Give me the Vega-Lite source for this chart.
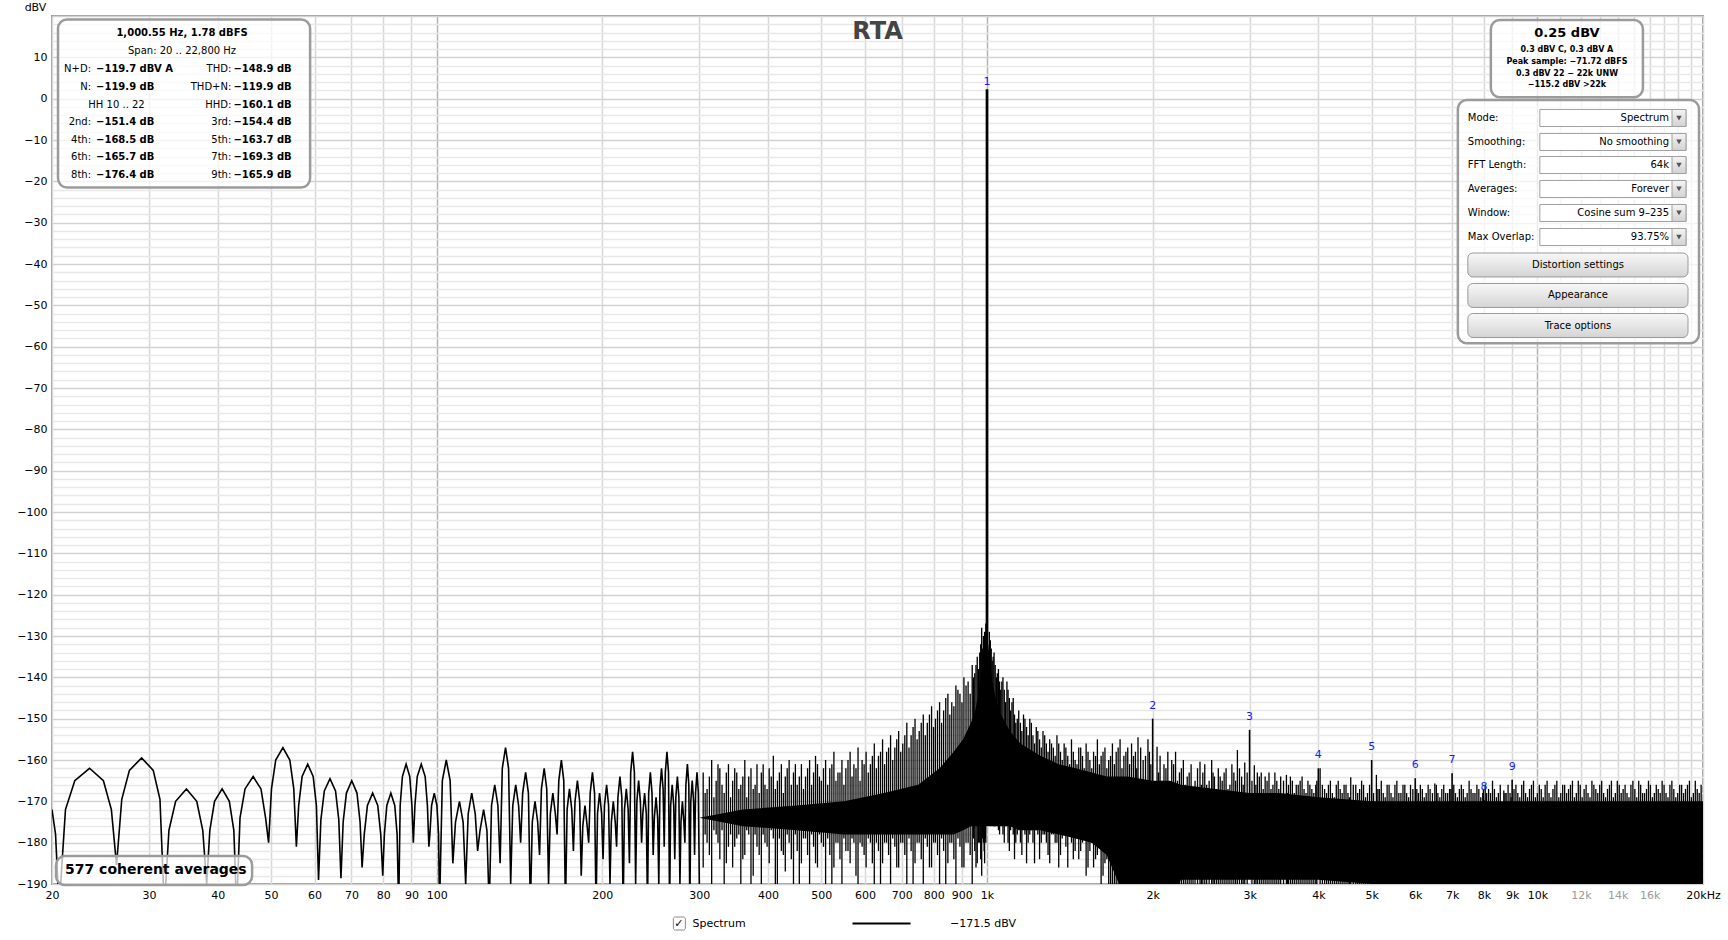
{
"$schema":"https://vega.github.io/schema/vega-lite/v6.json",
"width":1651,"height":868,
"autosize":{"type":"none"},
"padding":{"left":52,"top":16,"right":25,"bottom":56},
"background":"#ffffff",
"config":{"view":{"stroke":"#9a9a9a","strokeWidth":2},"font":"DejaVu Sans","text":{"font":"DejaVu Sans","fontSize":10.5,"color":"#000000"}},
"datasets":{
"trace":[{"f":20,"v":-172},{"f":20.3,"v":-178},{"f":20.6,"v":-196},
{"f":21.16,"v":-172},{"f":22.0,"v":-165},{"f":23.4,"v":-162},{"f":24.8,"v":-165},{"f":25.64,"v":-172},{"f":26.2,"v":-185.4},
{"f":26.78,"v":-169.5},{"f":27.65,"v":-162.5},{"f":29.1,"v":-159.5},{"f":30.55,"v":-162.5},{"f":31.42,"v":-169.5},{"f":32.0,"v":-196},
{"f":32.62,"v":-177},{"f":33.55,"v":-170},{"f":35.1,"v":-167},{"f":36.65,"v":-170},{"f":37.58,"v":-177},{"f":38.2,"v":-190},
{"f":38.71,"v":-177},{"f":39.48,"v":-170},{"f":40.75,"v":-167},{"f":42.0,"v":-170},{"f":42.8,"v":-177},{"f":43.3,"v":-196},
{"f":43.92,"v":-174},{"f":44.85,"v":-167},{"f":46.4,"v":-164},{"f":47.95,"v":-167},{"f":48.88,"v":-174},{"f":49.5,"v":-180},
{"f":50.1,"v":-167},{"f":51.0,"v":-160},{"f":52.55,"v":-157},{"f":54.1,"v":-160},{"f":55.0,"v":-167},{"f":55.6,"v":-181},
{"f":56.14,"v":-171},{"f":56.95,"v":-164},{"f":58.3,"v":-161},{"f":59.65,"v":-164},{"f":60.46,"v":-171},{"f":61.0,"v":-189},
{"f":61.6,"v":-174.5},{"f":62.5,"v":-167.5},{"f":64.0,"v":-164.5},{"f":65.5,"v":-167.5},{"f":66.4,"v":-174.5},{"f":67.0,"v":-188.6},
{"f":67.62,"v":-175},{"f":68.55,"v":-168},{"f":70.1,"v":-165},{"f":71.65,"v":-168},{"f":72.58,"v":-175},{"f":73.2,"v":-186},
{"f":73.86,"v":-178},{"f":74.85,"v":-171},{"f":76.5,"v":-168},{"f":78.15,"v":-171},{"f":79.14,"v":-178},{"f":79.8,"v":-188},
{"f":80.35,"v":-178},{"f":81.18,"v":-171},{"f":82.55,"v":-168},{"f":83.92,"v":-171},{"f":84.75,"v":-178},{"f":85.3,"v":-196},
{"f":85.84,"v":-171},{"f":86.65,"v":-164},{"f":88.0,"v":-161},{"f":89.35,"v":-164},{"f":90.16,"v":-171},{"f":90.7,"v":-180},
{"f":91.3,"v":-171},{"f":92.2,"v":-164},{"f":93.75,"v":-161},{"f":95.3,"v":-164},{"f":96.2,"v":-171},{"f":96.8,"v":-181},
{"f":97.2,"v":-178},{"f":97.9,"v":-171},{"f":99.0,"v":-168},{"f":100.1,"v":-171},{"f":100.8,"v":-178},{"f":101.2,"v":-196},
{"f":102.4,"v":-165},{"f":104.1,"v":-160},{"f":105.8,"v":-165},{"f":107.0,"v":-185},
{"f":108.2,"v":-175},{"f":110.0,"v":-170},{"f":111.7,"v":-175},{"f":112.9,"v":-190},
{"f":114.1,"v":-173},{"f":115.8,"v":-168},{"f":117.5,"v":-173},{"f":118.7,"v":-182},
{"f":119.9,"v":-177},{"f":121.7,"v":-172},{"f":123.4,"v":-177},{"f":124.6,"v":-196},
{"f":125.8,"v":-171},{"f":127.5,"v":-166},{"f":129.2,"v":-171},{"f":130.4,"v":-185},
{"f":131.6,"v":-162},{"f":133.4,"v":-157},{"f":135.1,"v":-162},{"f":136.3,"v":-190},
{"f":137.5,"v":-171},{"f":139.2,"v":-166},{"f":140.9,"v":-171},{"f":142.1,"v":-180},
{"f":143.3,"v":-168},{"f":145.1,"v":-163},{"f":146.8,"v":-168},{"f":148.0,"v":-196},
{"f":149.2,"v":-175},{"f":150.9,"v":-170},{"f":152.6,"v":-175},{"f":153.8,"v":-183},
{"f":155.0,"v":-167},{"f":156.8,"v":-162},{"f":158.5,"v":-167},{"f":159.7,"v":-190},
{"f":160.9,"v":-173},{"f":162.6,"v":-168},{"f":164.3,"v":-173},{"f":165.5,"v":-178},
{"f":166.7,"v":-165},{"f":168.5,"v":-160},{"f":170.2,"v":-165},{"f":171.4,"v":-196},
{"f":172.6,"v":-172},{"f":174.3,"v":-167},{"f":176.0,"v":-172},{"f":177.2,"v":-182},
{"f":178.4,"v":-170},{"f":180.2,"v":-165},{"f":181.9,"v":-170},{"f":183.1,"v":-188},
{"f":184.3,"v":-176},{"f":186.0,"v":-171},{"f":187.7,"v":-176},{"f":188.9,"v":-180},
{"f":190.1,"v":-168},{"f":191.9,"v":-163},{"f":193.6,"v":-168},{"f":194.8,"v":-196},
{"f":196.0,"v":-173},{"f":197.7,"v":-168},{"f":199.4,"v":-173},{"f":200.6,"v":-184},
{"f":201.8,"v":-171},{"f":203.6,"v":-166},{"f":205.3,"v":-171},{"f":206.5,"v":-190},
{"f":207.7,"v":-175},{"f":209.4,"v":-170},{"f":211.1,"v":-175},{"f":212.3,"v":-181},
{"f":213.5,"v":-169},{"f":215.3,"v":-164},{"f":217.0,"v":-169},{"f":218.2,"v":-196},
{"f":219.4,"v":-172},{"f":221.1,"v":-167},{"f":222.8,"v":-172},{"f":224.0,"v":-185},
{"f":225.2,"v":-163},{"f":227.0,"v":-158},{"f":228.7,"v":-163},{"f":229.9,"v":-190},
{"f":231.1,"v":-170},{"f":232.8,"v":-165},{"f":234.5,"v":-170},{"f":235.7,"v":-180},
{"f":236.9,"v":-173},{"f":238.7,"v":-168},{"f":240.4,"v":-173},{"f":241.6,"v":-196},
{"f":242.8,"v":-168},{"f":244.5,"v":-163},{"f":246.2,"v":-168},{"f":247.4,"v":-183},
{"f":248.6,"v":-174},{"f":250.4,"v":-169},{"f":252.1,"v":-174},{"f":253.3,"v":-190},
{"f":254.5,"v":-167},{"f":256.2,"v":-162},{"f":257.9,"v":-167},{"f":259.1,"v":-181},
{"f":260.3,"v":-163},{"f":262.1,"v":-158},{"f":263.8,"v":-163},{"f":265.0,"v":-196},
{"f":266.2,"v":-171},{"f":267.9,"v":-166},{"f":269.6,"v":-171},{"f":270.8,"v":-184},
{"f":272.0,"v":-169},{"f":273.8,"v":-164},{"f":275.5,"v":-169},{"f":276.7,"v":-190},
{"f":277.9,"v":-175},{"f":279.6,"v":-170},{"f":281.3,"v":-175},{"f":282.5,"v":-180},
{"f":283.7,"v":-166},{"f":285.5,"v":-161},{"f":287.2,"v":-166},{"f":288.4,"v":-196},
{"f":289.6,"v":-170},{"f":291.3,"v":-165},{"f":293.0,"v":-170},{"f":294.2,"v":-183},
{"f":295.4,"v":-168},{"f":297.2,"v":-163},{"f":298.9,"v":-168},{"f":300.1,"v":-190}],
"band":[{"f":300,"hi":-174,"lo":-174},{"f":360,"hi":-172,"lo":-176},{"f":450,"hi":-171,"lo":-177},{"f":550,"hi":-170,"lo":-178},{"f":650,"hi":-168,"lo":-178},{"f":750,"hi":-166,"lo":-178},{"f":820,"hi":-162,"lo":-178},{"f":870,"hi":-158,"lo":-178},{"f":905,"hi":-155,"lo":-177},{"f":935,"hi":-151,"lo":-176},{"f":952,"hi":-148,"lo":-176},{"f":965,"hi":-144,"lo":-176},{"f":975,"hi":-139,"lo":-176},{"f":986,"hi":-135,"lo":-176},{"f":995,"hi":-131,"lo":-176},{"f":1000,"hi":-131,"lo":-176},{"f":1005,"hi":-132,"lo":-176},{"f":1014,"hi":-137,"lo":-176},{"f":1023,"hi":-141,"lo":-176},{"f":1040,"hi":-146,"lo":-176},{"f":1060,"hi":-149,"lo":-176},{"f":1100,"hi":-153,"lo":-176},{"f":1150,"hi":-156,"lo":-177},{"f":1250,"hi":-159,"lo":-177},{"f":1350,"hi":-161,"lo":-178},{"f":1450,"hi":-162,"lo":-179},{"f":1550,"hi":-163,"lo":-180},{"f":1650,"hi":-164,"lo":-183},{"f":1700,"hi":-164,"lo":-187},{"f":1750,"hi":-164,"lo":-191},{"f":1800,"hi":-164,"lo":-195},{"f":2000,"hi":-165,"lo":-195},{"f":2150,"hi":-165,"lo":-195},{"f":2250,"hi":-166,"lo":-189},{"f":2600,"hi":-167,"lo":-189},{"f":3000,"hi":-168,"lo":-189},{"f":3400,"hi":-168,"lo":-189},{"f":4000,"hi":-169,"lo":-189},{"f":5000,"hi":-170,"lo":-190},{"f":5400,"hi":-170,"lo":-195},{"f":8000,"hi":-170,"lo":-195},{"f":12000,"hi":-170,"lo":-195},{"f":20000,"hi":-170,"lo":-195}],
"spk":[{"f":305,"t":-163,"b":-186},{"f":310,"t":-167,"b":-180},{"f":316,"t":-160,"b":-190},{"f":322,"t":-165,"b":-178},{"f":327,"t":-162,"b":-184},{"f":333,"t":-168,"b":-195},{"f":339,"t":-161,"b":-181},{"f":345,"t":-165,"b":-186},{"f":351,"t":-163,"b":-179},{"f":357,"t":-166,"b":-195},{"f":363,"t":-160,"b":-183},{"f":369,"t":-164,"b":-178},{"f":376,"t":-167,"b":-188},{"f":382,"t":-161,"b":-181},{"f":389,"t":-163,"b":-195},{"f":395,"t":-166,"b":-180},{"f":402,"t":-162,"b":-185},{"f":409,"t":-159,"b":-179},{"f":416,"t":-165,"b":-195},{"f":423,"t":-161,"b":-182},{"f":430,"t":-164,"b":-187},{"f":437,"t":-160,"b":-180},{"f":445,"t":-163,"b":-195},{"f":452,"t":-166,"b":-182},{"f":460,"t":-161,"b":-185},{"f":468,"t":-164,"b":-179},{"f":476,"t":-160,"b":-195},{"f":484,"t":-163,"b":-181},{"f":492,"t":-161,"b":-186},{"f":500,"t":-165,"b":-180},{"f":509,"t":-160,"b":-195},{"f":518,"t":-162,"b":-183},{"f":527,"t":-158,"b":-186},{"f":536,"t":-163,"b":-180},{"f":545,"t":-160,"b":-195},{"f":554,"t":-162,"b":-182},{"f":564,"t":-158,"b":-185},{"f":573,"t":-161,"b":-180},{"f":583,"t":-157,"b":-195},{"f":593,"t":-160,"b":-181},{"f":603,"t":-158,"b":-186},{"f":614,"t":-161,"b":-180},{"f":624,"t":-156,"b":-195},{"f":635,"t":-159,"b":-182},{"f":646,"t":-155,"b":-185},{"f":657,"t":-158,"b":-180},{"f":668,"t":-154,"b":-195},{"f":680,"t":-157,"b":-181},{"f":691,"t":-153,"b":-186},{"f":703,"t":-156,"b":-180},{"f":715,"t":-151,"b":-195},{"f":728,"t":-154,"b":-182},{"f":740,"t":-150,"b":-185},{"f":753,"t":-153,"b":-180},{"f":766,"t":-149,"b":-195},{"f":779,"t":-151,"b":-181},{"f":793,"t":-147,"b":-186},{"f":806,"t":-150,"b":-180},{"f":820,"t":-146,"b":-195},{"f":834,"t":-148,"b":-182},{"f":849,"t":-144,"b":-185},{"f":863,"t":-146,"b":-180},{"f":878,"t":-142,"b":-195},{"f":893,"t":-144,"b":-181},{"f":908,"t":-140,"b":-186},{"f":924,"t":-141,"b":-180},{"f":940,"t":-137,"b":-190},{"f":950,"t":-139,"b":-182},{"f":960,"t":-135,"b":-185},{"f":970,"t":-134,"b":-180},{"f":978,"t":-128,"b":-188},{"f":985,"t":-130,"b":-180},{"f":990,"t":-129,"b":-185},{"f":995,"t":-127,"b":-180},
{"f":307.5,"t":-168,"b":-178},{"f":313,"t":-164,"b":-183},{"f":319,"t":-169,"b":-177},{"f":324.5,"t":-161,"b":-180},{"f":330,"t":-166,"b":-177},{"f":336,"t":-163,"b":-185},{"f":342,"t":-169,"b":-178},{"f":348,"t":-162,"b":-181},{"f":354,"t":-167,"b":-178},{"f":360,"t":-164,"b":-184},{"f":366,"t":-169,"b":-177},{"f":372.5,"t":-162,"b":-190},{"f":379,"t":-166,"b":-178},{"f":385.5,"t":-168,"b":-183},{"f":392,"t":-161,"b":-178},{"f":398.5,"t":-167,"b":-181},{"f":405.5,"t":-164,"b":-177},{"f":412.5,"t":-167,"b":-190},{"f":419.5,"t":-163,"b":-179},{"f":426.5,"t":-168,"b":-183},{"f":433.5,"t":-162,"b":-178},{"f":441,"t":-166,"b":-184},{"f":448.5,"t":-161,"b":-178},{"f":456,"t":-164,"b":-190},{"f":464,"t":-167,"b":-179},{"f":472,"t":-162,"b":-183},{"f":480,"t":-166,"b":-178},{"f":488,"t":-159,"b":-185},{"f":496,"t":-164,"b":-178},{"f":504.5,"t":-162,"b":-181},{"f":513.5,"t":-166,"b":-179},{"f":522.5,"t":-161,"b":-190},{"f":531.5,"t":-165,"b":-180},{"f":540.5,"t":-163,"b":-184},{"f":549.5,"t":-166,"b":-179},{"f":559,"t":-160,"b":-182},{"f":568.5,"t":-164,"b":-179},{"f":578,"t":-162,"b":-188},{"f":588,"t":-165,"b":-180},{"f":598,"t":-161,"b":-183},{"f":608.5,"t":-163,"b":-179},{"f":619,"t":-159,"b":-185},{"f":629.5,"t":-162,"b":-180},{"f":640.5,"t":-158,"b":-190},{"f":651.5,"t":-161,"b":-180},{"f":662.5,"t":-157,"b":-183},{"f":674,"t":-160,"b":-179},{"f":685.5,"t":-155,"b":-186},{"f":697,"t":-158,"b":-180},{"f":709,"t":-154,"b":-183},{"f":721.5,"t":-157,"b":-179},{"f":734,"t":-152,"b":-190},{"f":746.5,"t":-155,"b":-180},{"f":759.5,"t":-151,"b":-184},{"f":772.5,"t":-154,"b":-179},{"f":786,"t":-149,"b":-186},{"f":799.5,"t":-152,"b":-180},{"f":813,"t":-148,"b":-183},{"f":827,"t":-151,"b":-179},{"f":841.5,"t":-145,"b":-190},{"f":856,"t":-149,"b":-180},{"f":870.5,"t":-147,"b":-184},{"f":885.5,"t":-143,"b":-179},{"f":900.5,"t":-146,"b":-186},{"f":916,"t":-142,"b":-180},{"f":932,"t":-144,"b":-183},{"f":945,"t":-140,"b":-179},{"f":955,"t":-137,"b":-186},{"f":965,"t":-138,"b":-180},{"f":974,"t":-132,"b":-184},{"f":982,"t":-133,"b":-179},{"f":988,"t":-130,"b":-182},{"f":993,"t":-129,"b":-179},
{"f":1010,"t":-129,"b":-170},{"f":1018,"t":-133,"b":-175},{"f":1026,"t":-135,"b":-168},{"f":1035,"t":-137,"b":-176},{"f":1044,"t":-139,"b":-172},{"f":1054,"t":-141,"b":-178},{"f":1064,"t":-141,"b":-174},{"f":1075,"t":-143,"b":-180},{"f":1087,"t":-141,"b":-175},{"f":1098,"t":-145,"b":-182},{"f":1110,"t":-146,"b":-176},{"f":1122,"t":-149,"b":-184},{"f":1135,"t":-150,"b":-178},{"f":1150,"t":-151,"b":-180},{"f":1165,"t":-149,"b":-176},{"f":1180,"t":-152,"b":-185},{"f":1196,"t":-150,"b":-178},{"f":1212,"t":-154,"b":-180},{"f":1229,"t":-152,"b":-177},{"f":1246,"t":-155,"b":-184},{"f":1264,"t":-153,"b":-178},{"f":1282,"t":-156,"b":-180},{"f":1300,"t":-155,"b":-185},{"f":1320,"t":-157,"b":-178},{"f":1340,"t":-154,"b":-180},{"f":1360,"t":-158,"b":-183},{"f":1381,"t":-156,"b":-178},{"f":1402,"t":-159,"b":-186},{"f":1424,"t":-155,"b":-180},{"f":1446,"t":-160,"b":-182},{"f":1468,"t":-157,"b":-184},{"f":1491,"t":-159,"b":-180},{"f":1514,"t":-156,"b":-188},{"f":1538,"t":-160,"b":-182},{"f":1562,"t":-158,"b":-186},{"f":1587,"t":-155,"b":-183},{"f":1612,"t":-159,"b":-190},{"f":1638,"t":-157,"b":-185},{"f":1664,"t":-160,"b":-190},{"f":1690,"t":-156,"b":-190},{"f":1717,"t":-158,"b":-190},{"f":1745,"t":-155,"b":-190},{"f":1773,"t":-159,"b":-190},{"f":1802,"t":-157,"b":-190},{"f":1831,"t":-156,"b":-190},{"f":1861,"t":-158,"b":-190},{"f":1881,"t":-154.5,"b":-190},{"f":1922,"t":-160,"b":-190},{"f":1961,"t":-155,"b":-190},{"f":1985,"t":-161,"b":-190},
{"f":1014,"t":-131,"b":-172},{"f":1022,"t":-136,"b":-170},{"f":1030,"t":-134,"b":-176},{"f":1040,"t":-140,"b":-174},{"f":1049,"t":-138,"b":-177},{"f":1059,"t":-143,"b":-175},{"f":1069,"t":-140,"b":-178},{"f":1081,"t":-146,"b":-176},{"f":1092,"t":-143,"b":-180},{"f":1104,"t":-148,"b":-177},{"f":1116,"t":-145,"b":-178},{"f":1128,"t":-151,"b":-180},{"f":1142,"t":-148,"b":-177},{"f":1157,"t":-153,"b":-183},{"f":1172,"t":-150,"b":-178},{"f":1188,"t":-154,"b":-180},{"f":1204,"t":-151,"b":-177},{"f":1220,"t":-156,"b":-185},{"f":1237,"t":-153,"b":-178},{"f":1255,"t":-157,"b":-180},{"f":1273,"t":-154,"b":-178},{"f":1291,"t":-158,"b":-183},{"f":1310,"t":-156,"b":-178},{"f":1330,"t":-159,"b":-180},{"f":1350,"t":-156,"b":-186},{"f":1370,"t":-160,"b":-179},{"f":1391,"t":-157,"b":-181},{"f":1413,"t":-161,"b":-178},{"f":1435,"t":-158,"b":-184},{"f":1457,"t":-161,"b":-179},{"f":1480,"t":-157,"b":-182},{"f":1502,"t":-162,"b":-179},{"f":1526,"t":-158,"b":-186},{"f":1550,"t":-162,"b":-180},{"f":1575,"t":-159,"b":-184},{"f":1600,"t":-161,"b":-181},{"f":1625,"t":-158,"b":-188},{"f":1651,"t":-162,"b":-184},{"f":1677,"t":-159,"b":-190},{"f":1704,"t":-161,"b":-190},{"f":1731,"t":-157,"b":-190},{"f":1759,"t":-162,"b":-190},{"f":1788,"t":-158,"b":-190},{"f":1816,"t":-161,"b":-190},{"f":1846,"t":-159,"b":-190},{"f":1871,"t":-162,"b":-190},{"f":1902,"t":-157,"b":-190},{"f":1941,"t":-159,"b":-190},{"f":1973,"t":-158,"b":-190},
{"f":2037,"t":-156.8,"b":-195},{"f":2063,"t":-159,"b":-195},{"f":2097,"t":-161,"b":-195},{"f":2131,"t":-158,"b":-195},{"f":2166,"t":-160,"b":-195},{"f":2201,"t":-158,"b":-195},{"f":2237,"t":-163,"b":-195},{"f":2274,"t":-160,"b":-195},{"f":2311,"t":-164,"b":-195},{"f":2349,"t":-161,"b":-195},{"f":2388,"t":-165,"b":-195},{"f":2438,"t":-160.4,"b":-195},{"f":2467,"t":-163,"b":-195},{"f":2507,"t":-166,"b":-195},{"f":2560,"t":-160,"b":-195},{"f":2590,"t":-164,"b":-195},{"f":2632,"t":-162,"b":-195},{"f":2675,"t":-165,"b":-195},{"f":2719,"t":-162,"b":-195},{"f":2763,"t":-166,"b":-195},{"f":2809,"t":-163,"b":-195},{"f":2851,"t":-157.6,"b":-195},{"f":2902,"t":-164,"b":-195},{"f":2940,"t":-160.6,"b":-195},{"f":3060,"t":-161.3,"b":-195},{"f":3099,"t":-163,"b":-195},{"f":3150,"t":-163,"b":-195},{"f":3202,"t":-164,"b":-195},{"f":3254,"t":-163,"b":-195},{"f":3308,"t":-166,"b":-195},{"f":3362,"t":-165,"b":-195},{"f":3417,"t":-164,"b":-195},{"f":3500,"t":-163.6,"b":-195},{"f":3530,"t":-166,"b":-195},{"f":3588,"t":-165,"b":-195},{"f":3647,"t":-166,"b":-195},{"f":3707,"t":-165,"b":-195},{"f":3768,"t":-167,"b":-195},{"f":3830,"t":-165,"b":-195},{"f":3893,"t":-167,"b":-195},{"f":3957,"t":-166,"b":-195},{"f":4030,"t":-162,"b":-195},{"f":4106,"t":-167,"b":-195},{"f":4173,"t":-166,"b":-195},{"f":4242,"t":-168,"b":-195},{"f":4312,"t":-166,"b":-195},{"f":4383,"t":-167,"b":-195},{"f":4455,"t":-166,"b":-195},{"f":4528,"t":-168,"b":-195},{"f":4581,"t":-164.2,"b":-195},{"f":4678,"t":-166,"b":-195},{"f":4755,"t":-167,"b":-195},{"f":4833,"t":-166,"b":-195},{"f":4913,"t":-168,"b":-195},{"f":5100,"t":-163.6,"b":-195},{"f":5163,"t":-167,"b":-195},{"f":5248,"t":-168,"b":-195},{"f":5334,"t":-166,"b":-195},{"f":5422,"t":-168,"b":-195},{"f":5511,"t":-166,"b":-195},{"f":5602,"t":-168,"b":-195},{"f":5700,"t":-166,"b":-195},{"f":5788,"t":-168,"b":-195},{"f":5883,"t":-166,"b":-195},{"f":6080,"t":-168,"b":-195},{"f":6180,"t":-167,"b":-195},{"f":6281,"t":-168,"b":-195},{"f":6385,"t":-167,"b":-195},{"f":6512,"t":-165.7,"b":-195},{"f":6596,"t":-168,"b":-195},{"f":6705,"t":-167,"b":-195},{"f":6815,"t":-168,"b":-195},{"f":6927,"t":-167,"b":-195},{"f":7100,"t":-168,"b":-195},{"f":7217,"t":-167,"b":-195},{"f":7335,"t":-167,"b":-195},{"f":7456,"t":-168,"b":-195},{"f":7578,"t":-167,"b":-195},{"f":7703,"t":-168,"b":-195},{"f":7829,"t":-167,"b":-195},{"f":7958,"t":-168,"b":-195},{"f":8089,"t":-168,"b":-195},{"f":8222,"t":-168,"b":-195},{"f":8357,"t":-167,"b":-195},{"f":8495,"t":-168,"b":-195},{"f":8691,"t":-167.4,"b":-195},{"f":8776,"t":-168,"b":-195},{"f":8920,"t":-168,"b":-195},{"f":9070,"t":-167,"b":-195},{"f":9216,"t":-168,"b":-195},{"f":9368,"t":-166,"b":-195},{"f":9522,"t":-168,"b":-195},{"f":9679,"t":-167,"b":-195},{"f":9838,"t":-165,"b":-195},{"f":10000,"t":-168,"b":-195},{"f":10165,"t":-167,"b":-195},{"f":10332,"t":-166,"b":-195},{"f":10502,"t":-168,"b":-195},{"f":10675,"t":-167,"b":-195},{"f":10850,"t":-165,"b":-195},{"f":11029,"t":-168,"b":-195},{"f":11210,"t":-166,"b":-195},{"f":11395,"t":-167,"b":-195},{"f":11582,"t":-165,"b":-195},{"f":11772,"t":-168,"b":-195},{"f":11966,"t":-166,"b":-195},{"f":12163,"t":-167,"b":-195},{"f":12363,"t":-168,"b":-195},{"f":12566,"t":-165,"b":-195},{"f":12773,"t":-167,"b":-195},{"f":12983,"t":-166,"b":-195},{"f":13197,"t":-168,"b":-195},{"f":13414,"t":-167,"b":-195},{"f":13634,"t":-165,"b":-195},{"f":13859,"t":-168,"b":-195},{"f":14087,"t":-166,"b":-195},{"f":14318,"t":-167,"b":-195},{"f":14554,"t":-168,"b":-195},{"f":14793,"t":-166,"b":-195},{"f":15037,"t":-167,"b":-195},{"f":15284,"t":-165,"b":-195},{"f":15535,"t":-168,"b":-195},{"f":15791,"t":-167,"b":-195},{"f":16051,"t":-166,"b":-195},{"f":16315,"t":-168,"b":-195},{"f":16583,"t":-167,"b":-195},{"f":16856,"t":-165,"b":-195},{"f":17133,"t":-168,"b":-195},{"f":17415,"t":-166,"b":-195},{"f":17702,"t":-167,"b":-195},{"f":17993,"t":-168,"b":-195},{"f":18289,"t":-166,"b":-195},{"f":18590,"t":-167,"b":-195},{"f":18896,"t":-165,"b":-195},{"f":19207,"t":-168,"b":-195},{"f":19523,"t":-167,"b":-195},{"f":19844,"t":-166,"b":-195},
{"f":2050,"t":-163,"b":-195},{"f":2080,"t":-165,"b":-195},{"f":2114,"t":-162,"b":-195},{"f":2148,"t":-166,"b":-195},{"f":2183,"t":-161,"b":-195},{"f":2219,"t":-165,"b":-195},{"f":2255,"t":-162,"b":-195},{"f":2292,"t":-166,"b":-195},{"f":2330,"t":-163,"b":-195},{"f":2368,"t":-167,"b":-195},{"f":2413,"t":-162,"b":-195},{"f":2452,"t":-166,"b":-195},{"f":2487,"t":-161,"b":-195},{"f":2533,"t":-165,"b":-195},{"f":2575,"t":-163,"b":-195},{"f":2611,"t":-167,"b":-195},{"f":2653,"t":-164,"b":-195},{"f":2697,"t":-163,"b":-195},{"f":2741,"t":-167,"b":-195},{"f":2786,"t":-161,"b":-195},{"f":2830,"t":-165,"b":-195},{"f":2876,"t":-162,"b":-195},{"f":2921,"t":-166,"b":-195},{"f":2970,"t":-163,"b":-195},
{"f":3030,"t":-165,"b":-195},{"f":3080,"t":-166,"b":-195},{"f":3125,"t":-164,"b":-195},{"f":3176,"t":-167,"b":-195},{"f":3228,"t":-165,"b":-195},{"f":3281,"t":-167,"b":-195},{"f":3335,"t":-163,"b":-195},{"f":3390,"t":-167,"b":-195},{"f":3458,"t":-165,"b":-195},{"f":3515,"t":-168,"b":-195},{"f":3559,"t":-164,"b":-195},{"f":3617,"t":-168,"b":-195},{"f":3677,"t":-166,"b":-195},{"f":3737,"t":-164,"b":-195},{"f":3799,"t":-168,"b":-195},{"f":3861,"t":-166,"b":-195},{"f":3925,"t":-168,"b":-195},{"f":3975,"t":-165,"b":-195},
{"f":4068,"t":-166,"b":-195},{"f":4140,"t":-168,"b":-195},{"f":4207,"t":-165,"b":-195},{"f":4277,"t":-169,"b":-195},{"f":4347,"t":-165,"b":-195},{"f":4419,"t":-168,"b":-195},{"f":4491,"t":-166,"b":-195},{"f":4555,"t":-169,"b":-195},{"f":4630,"t":-166,"b":-195},{"f":4716,"t":-168,"b":-195},{"f":4794,"t":-165,"b":-195},{"f":4873,"t":-169,"b":-195},{"f":4956,"t":-166,"b":-195},
{"f":5040,"t":-168,"b":-195},{"f":5131,"t":-167,"b":-195},{"f":5205,"t":-165,"b":-195},{"f":5291,"t":-169,"b":-195},{"f":5378,"t":-166,"b":-195},{"f":5466,"t":-169,"b":-195},{"f":5556,"t":-165,"b":-195},{"f":5651,"t":-168,"b":-195},{"f":5744,"t":-166,"b":-195},{"f":5835,"t":-169,"b":-195},{"f":5940,"t":-167,"b":-195},
{"f":6040,"t":-167,"b":-195},{"f":6130,"t":-166,"b":-195},{"f":6230,"t":-169,"b":-195},{"f":6333,"t":-166,"b":-195},{"f":6448,"t":-168,"b":-195},{"f":6554,"t":-166,"b":-195},{"f":6650,"t":-169,"b":-195},{"f":6760,"t":-166,"b":-195},{"f":6871,"t":-168,"b":-195},{"f":6965,"t":-167,"b":-195},
{"f":7050,"t":-166,"b":-195},{"f":7158,"t":-169,"b":-195},{"f":7276,"t":-166,"b":-195},{"f":7395,"t":-169,"b":-195},{"f":7517,"t":-165,"b":-195},{"f":7640,"t":-168,"b":-195},{"f":7766,"t":-166,"b":-195},{"f":7893,"t":-169,"b":-195},{"f":7980,"t":-167,"b":-195},
{"f":8040,"t":-166,"b":-195},{"f":8155,"t":-167,"b":-195},{"f":8290,"t":-165,"b":-195},{"f":8426,"t":-169,"b":-195},{"f":8563,"t":-166,"b":-195},{"f":8733,"t":-168,"b":-195},{"f":8848,"t":-166,"b":-195},{"f":8960,"t":-169,"b":-195},
{"f":9143,"t":-166,"b":-195},{"f":9292,"t":-169,"b":-195},{"f":9445,"t":-165,"b":-195},{"f":9600,"t":-169,"b":-195},{"f":9758,"t":-166,"b":-195},{"f":9919,"t":-169,"b":-195},
{"f":10082,"t":-166,"b":-195},{"f":10248,"t":-169,"b":-195},{"f":10417,"t":-165,"b":-195},{"f":10588,"t":-169,"b":-195},{"f":10762,"t":-166,"b":-195},{"f":10939,"t":-169,"b":-195},{"f":11119,"t":-166,"b":-195},{"f":11302,"t":-168,"b":-195},{"f":11488,"t":-166,"b":-195},{"f":11677,"t":-169,"b":-195},{"f":11869,"t":-165,"b":-195},{"f":12064,"t":-169,"b":-195},{"f":12263,"t":-166,"b":-195},{"f":12464,"t":-169,"b":-195},{"f":12669,"t":-166,"b":-195},{"f":12878,"t":-168,"b":-195},{"f":13090,"t":-165,"b":-195},{"f":13305,"t":-169,"b":-195},{"f":13524,"t":-166,"b":-195},{"f":13746,"t":-169,"b":-195},{"f":13973,"t":-165,"b":-195},{"f":14202,"t":-168,"b":-195},{"f":14436,"t":-166,"b":-195},{"f":14673,"t":-169,"b":-195},{"f":14915,"t":-165,"b":-195},{"f":15160,"t":-169,"b":-195},{"f":15409,"t":-166,"b":-195},{"f":15663,"t":-168,"b":-195},{"f":15921,"t":-165,"b":-195},{"f":16183,"t":-169,"b":-195},{"f":16449,"t":-166,"b":-195},{"f":16719,"t":-168,"b":-195},{"f":16994,"t":-166,"b":-195},{"f":17274,"t":-169,"b":-195},{"f":17558,"t":-165,"b":-195},{"f":17847,"t":-169,"b":-195},{"f":18141,"t":-166,"b":-195},{"f":18439,"t":-168,"b":-195},{"f":18743,"t":-166,"b":-195},{"f":19051,"t":-169,"b":-195},{"f":19365,"t":-165,"b":-195},{"f":19683,"t":-168,"b":-195}],
"harm":[{"n":1,"f":1000,"t":2.3,"b":-135},{"n":2,"f":2000,"t":-150,"b":-175},{"n":3,"f":3000,"t":-152.7,"b":-175},{"n":4,"f":4000,"t":-162,"b":-180},{"n":5,"f":5000,"t":-160,"b":-180},{"n":6,"f":6000,"t":-164.4,"b":-180},{"n":7,"f":7000,"t":-163.2,"b":-180},{"n":8,"f":8000,"t":-169.7,"b":-180},{"n":9,"f":9000,"t":-164.8,"b":-180}]
},
"layer":[
{"data":{"name":"band"},"mark":{"type":"area","color":"#000000","clip":true},
 "encoding":{
  "x":{"field":"f","type":"quantitative","scale":{"type":"log","domain":[20,20000]},
   "axis":{"values":[20,30,40,50,60,70,80,90,100,200,300,400,500,600,700,800,900,1000,2000,3000,4000,5000,6000,7000,8000,9000,10000,11000,12000,13000,14000,15000,16000,17000,18000,19000,20000],
    "tickCount":200,"title":null,"grid":true,"ticks":false,"tickSize":0,"domain":false,"labelOverlap":false,"labelBound":false,"labelFlush":false,
    "labelExpr":"datum.value < 1000 ? '' + datum.value : datum.value == 20000 ? '20kHz' : (datum.value <= 10000 || datum.value == 12000 || datum.value == 14000 || datum.value == 16000) ? (datum.value / 1000) + 'k' : ''",
    "labelFont":"DejaVu Sans","labelFontSize":11,"labelPadding":5,
    "labelColor":{"condition":{"test":"datum.value == 12000 || datum.value == 14000 || datum.value == 16000","value":"#9a9a9a"},"value":"#000000"},
    "gridColor":{"condition":{"test":"datum.value == 100 || datum.value == 1000 || datum.value == 10000","value":"#b4b4b4"},"value":"#d8d8d8"},"gridWidth":1.5}},
  "y":{"field":"hi","type":"quantitative","scale":{"domain":[-190,20],"nice":false,"zero":false},
   "axis":{"values":[-190,-188,-186,-184,-182,-180,-178,-176,-174,-172,-170,-168,-166,-164,-162,-160,-158,-156,-154,-152,-150,-148,-146,-144,-142,-140,-138,-136,-134,-132,-130,-128,-126,-124,-122,-120,-118,-116,-114,-112,-110,-108,-106,-104,-102,-100,-98,-96,-94,-92,-90,-88,-86,-84,-82,-80,-78,-76,-74,-72,-70,-68,-66,-64,-62,-60,-58,-56,-54,-52,-50,-48,-46,-44,-42,-40,-38,-36,-34,-32,-30,-28,-26,-24,-22,-20,-18,-16,-14,-12,-10,-8,-6,-4,-2,0,2,4,6,8,10,12,14,16,18,20],
    "tickCount":200,"title":"dBV","titleAngle":0,"titleX":-17,"titleY":-9,"titleAlign":"center","titleBaseline":"middle","titleFontWeight":"normal","titleFontSize":11,"titleFont":"DejaVu Sans","titleColor":"#000000",
    "grid":true,"ticks":false,"tickSize":0,"domain":false,"labelOverlap":false,"labelBound":false,
    "labelExpr":"datum.value % 10 === 0 && datum.value < 20 ? datum.label : ''",
    "labelFont":"DejaVu Sans","labelFontSize":11,"labelPadding":5,"labelColor":"#000000",
    "gridColor":{"condition":{"test":"datum.value % 10 === 0","value":"#d2d2d2"},"value":"#e8e8e8"},"gridWidth":1.5}},
  "y2":{"field":"lo"}}},
{"data":{"name":"spk"},"mark":{"type":"rule","color":"#000000","strokeWidth":1.3,"clip":true},
 "encoding":{"x":{"field":"f","type":"quantitative","scale":{"type":"log","domain":[20,20000]}},
  "y":{"field":"t","type":"quantitative","scale":{"domain":[-190,20],"nice":false,"zero":false}},"y2":{"field":"b"}}},
{"data":{"name":"trace"},"mark":{"type":"line","color":"#000000","strokeWidth":1.6,"clip":true},
 "encoding":{"x":{"field":"f","type":"quantitative","scale":{"type":"log","domain":[20,20000]}},
  "y":{"field":"v","type":"quantitative","scale":{"domain":[-190,20],"nice":false,"zero":false}}}},
{"data":{"name":"harm"},"mark":{"type":"rule","color":"#000000","clip":true},
 "encoding":{"x":{"field":"f","type":"quantitative","scale":{"type":"log","domain":[20,20000]}},
  "y":{"field":"t","type":"quantitative","scale":{"domain":[-190,20],"nice":false,"zero":false}},"y2":{"field":"b"},
  "strokeWidth":{"condition":{"test":"datum.n === 1","value":2.7},"value":1.6}}},
{"data":{"name":"harm"},"transform":[{"filter":"datum.n > 1"}],"mark":{"type":"text","color":"#1a1aff","fontSize":11,"baseline":"middle","align":"center","dy":-13},
 "encoding":{"x":{"field":"f","type":"quantitative","scale":{"type":"log","domain":[20,20000]}},
  "y":{"field":"t","type":"quantitative","scale":{"domain":[-190,20],"nice":false,"zero":false}},"text":{"field":"n"}}},
{"data":{"name":"harm"},"transform":[{"filter":"datum.n === 1"}],"mark":{"type":"text","color":"#1a1aff","fontSize":11,"baseline":"middle","align":"center","dy":-7},
 "encoding":{"x":{"field":"f","type":"quantitative","scale":{"type":"log","domain":[20,20000]}},
  "y":{"field":"t","type":"quantitative","scale":{"domain":[-190,20],"nice":false,"zero":false}},"text":{"field":"n"}}},
{"data":{"values":[{"x1":20.51,"x2":58.89,"y1":19.15,"y2":-21.49},{"x1":8233,"x2":15555,"y1":19.03,"y2":0.33},{"x1":7171,"x2":19668,"y1":-0.32,"y2":-59.19},{"x1":20.34,"x2":46.2,"y1":-183.23,"y2":-190.24}]},
 "mark":{"type":"rect","fill":"#ffffff","fillOpacity":0.72,"stroke":"#9b9b9b","strokeWidth":2.5,"cornerRadius":9},
 "encoding":{"x":{"field":"x1","type":"quantitative","scale":{"type":"log","domain":[20,20000]}},"x2":{"field":"x2"},
  "y":{"field":"y1","type":"quantitative","scale":{"domain":[-190,20],"nice":false,"zero":false}},"y2":{"field":"y2"}}},
{"data":{"values":[{"y1":-2.62,"y2":-6.74},{"y1":-8.42,"y2":-12.54},{"y1":-13.99,"y2":-18.11},{"y1":-19.79,"y2":-23.91},{"y1":-25.6,"y2":-29.72},{"y1":-31.41,"y2":-35.53}]},
 "layer":[
  {"mark":{"type":"rect","fill":"#ffffff","stroke":"#a0a0a0","strokeWidth":1},
   "encoding":{"x":{"datum":10105,"type":"quantitative","scale":{"type":"log","domain":[20,20000]}},"x2":{"datum":18627},
    "y":{"field":"y1","type":"quantitative","scale":{"domain":[-190,20],"nice":false,"zero":false}},"y2":{"field":"y2"}}},
  {"mark":{"type":"rect","stroke":"#a0a0a0","strokeWidth":1,"fill":{"gradient":"linear","x1":0,"y1":0,"x2":0,"y2":1,"stops":[{"offset":0,"color":"#f4f4f4"},{"offset":1,"color":"#d2d2d2"}]}},
   "encoding":{"x":{"datum":17568,"type":"quantitative","scale":{"type":"log","domain":[20,20000]}},"x2":{"datum":18627},
    "y":{"field":"y1","type":"quantitative","scale":{"domain":[-190,20],"nice":false,"zero":false}},"y2":{"field":"y2"}}}
 ]},
{"data":{"values":[{"v":-4.68},{"v":-10.48},{"v":-16.05},{"v":-21.85},{"v":-27.66},{"v":-33.47}]},
 "mark":{"type":"point","shape":"triangle-down","filled":true,"color":"#555555","size":30,"opacity":1},
 "encoding":{"x":{"datum":18089,"type":"quantitative","scale":{"type":"log","domain":[20,20000]}},
  "y":{"field":"v","type":"quantitative","scale":{"domain":[-190,20],"nice":false,"zero":false}}}},
{"data":{"values":[{"y1":-37.34,"y2":-43.14},{"y1":-44.72,"y2":-50.52},{"y1":-51.98,"y2":-57.78}]},
 "mark":{"type":"rect","stroke":"#9a9a9a","strokeWidth":1,"cornerRadius":5,"fill":{"gradient":"linear","x1":0,"y1":0,"x2":0,"y2":1,"stops":[{"offset":0,"color":"#f8f8f8"},{"offset":1,"color":"#d4d4d4"}]}},
 "encoding":{"x":{"datum":7477,"type":"quantitative","scale":{"type":"log","domain":[20,20000]}},"x2":{"datum":18784},
  "y":{"field":"y1","type":"quantitative","scale":{"domain":[-190,20],"nice":false,"zero":false}},"y2":{"field":"y2"}}},
{"data":{"values":[{"f":34.46,"v":15.96,"t":"1,000.55 Hz, 1.78 dBFS"}]},
 "mark":{"type":"text","fontSize":10,"fontWeight":"bold","align":"center","baseline":"middle"},
 "encoding":{"x":{"field":"f","type":"quantitative","scale":{"type":"log","domain":[20,20000]}},"y":{"field":"v","type":"quantitative","scale":{"domain":[-190,20],"nice":false,"zero":false}},"text":{"field":"t"}}},
{"data":{"values":[{"f":34.46,"v":11.6,"t":"Span: 20 .. 22,800 Hz"},{"f":26.2,"v":-1.46,"t":"HH 10 .. 22"}]},
 "mark":{"type":"text","fontSize":10,"align":"center","baseline":"middle"},
 "encoding":{"x":{"field":"f","type":"quantitative","scale":{"type":"log","domain":[20,20000]}},"y":{"field":"v","type":"quantitative","scale":{"domain":[-190,20],"nice":false,"zero":false}},"text":{"field":"t"}}},
{"data":{"values":[{"f":23.55,"v":7.18,"t":"N+D:"},{"f":23.55,"v":2.9,"t":"N:"},{"f":23.55,"v":-5.65,"t":"2nd:"},{"f":23.55,"v":-10.0,"t":"4th:"},{"f":23.55,"v":-14.04,"t":"6th:"},{"f":23.55,"v":-18.47,"t":"8th:"},{"f":42.35,"v":7.18,"t":"THD:"},{"f":42.35,"v":2.9,"t":"THD+N:"},{"f":42.35,"v":-1.46,"t":"HHD:"},{"f":42.35,"v":-5.65,"t":"3rd:"},{"f":42.35,"v":-10.0,"t":"5th:"},{"f":42.35,"v":-14.04,"t":"7th:"},{"f":42.35,"v":-18.47,"t":"9th:"}]},
 "mark":{"type":"text","fontSize":10,"align":"right","baseline":"middle"},
 "encoding":{"x":{"field":"f","type":"quantitative","scale":{"type":"log","domain":[20,20000]}},"y":{"field":"v","type":"quantitative","scale":{"domain":[-190,20],"nice":false,"zero":false}},"text":{"field":"t"}}},
{"data":{"values":[{"f":24.05,"v":7.18,"t":"−119.7 dBV A"},{"f":24.05,"v":2.9,"t":"−119.9 dB"},{"f":24.05,"v":-5.65,"t":"−151.4 dB"},{"f":24.05,"v":-10.0,"t":"−168.5 dB"},{"f":24.05,"v":-14.04,"t":"−165.7 dB"},{"f":24.05,"v":-18.47,"t":"−176.4 dB"},{"f":42.72,"v":7.18,"t":"−148.9 dB"},{"f":42.72,"v":2.9,"t":"−119.9 dB"},{"f":42.72,"v":-1.46,"t":"−160.1 dB"},{"f":42.72,"v":-5.65,"t":"−154.4 dB"},{"f":42.72,"v":-10.0,"t":"−163.7 dB"},{"f":42.72,"v":-14.04,"t":"−169.3 dB"},{"f":42.72,"v":-18.47,"t":"−165.9 dB"}]},
 "mark":{"type":"text","fontSize":10,"fontWeight":"bold","align":"left","baseline":"middle"},
 "encoding":{"x":{"field":"f","type":"quantitative","scale":{"type":"log","domain":[20,20000]}},"y":{"field":"v","type":"quantitative","scale":{"domain":[-190,20],"nice":false,"zero":false}},"text":{"field":"t"}}},
{"data":{"values":[{"f":11318,"v":15.98,"t":"0.25 dBV"}]},
 "mark":{"type":"text","fontSize":13,"fontWeight":"bold","align":"center","baseline":"middle"},
 "encoding":{"x":{"field":"f","type":"quantitative","scale":{"type":"log","domain":[20,20000]}},"y":{"field":"v","type":"quantitative","scale":{"domain":[-190,20],"nice":false,"zero":false}},"text":{"field":"t"}}},
{"data":{"values":[{"f":11318,"v":11.87,"t":"0.3 dBV C, 0.3 dBV A"},{"f":11318,"v":8.97,"t":"Peak sample: −71.72 dBFS"},{"f":11318,"v":6.06,"t":"0.3 dBV 22 − 22k UNW"},{"f":11318,"v":3.19,"t":"−115.2 dBV >22k"}]},
 "mark":{"type":"text","fontSize":8,"fontWeight":"bold","align":"center","baseline":"middle"},
 "encoding":{"x":{"field":"f","type":"quantitative","scale":{"type":"log","domain":[20,20000]}},"y":{"field":"v","type":"quantitative","scale":{"domain":[-190,20],"nice":false,"zero":false}},"text":{"field":"t"}}},
{"data":{"values":[{"f":7477,"v":-4.68,"t":"Mode:"},{"f":7477,"v":-10.48,"t":"Smoothing:"},{"f":7477,"v":-16.05,"t":"FFT Length:"},{"f":7477,"v":-21.85,"t":"Averages:"},{"f":7477,"v":-27.66,"t":"Window:"},{"f":7477,"v":-33.47,"t":"Max Overlap:"}]},
 "mark":{"type":"text","fontSize":10,"align":"left","baseline":"middle"},
 "encoding":{"x":{"field":"f","type":"quantitative","scale":{"type":"log","domain":[20,20000]}},"y":{"field":"v","type":"quantitative","scale":{"domain":[-190,20],"nice":false,"zero":false}},"text":{"field":"t"}}},
{"data":{"values":[{"f":17349,"v":-4.68,"t":"Spectrum"},{"f":17349,"v":-10.48,"t":"No  smoothing"},{"f":17349,"v":-16.05,"t":"64k"},{"f":17349,"v":-21.85,"t":"Forever"},{"f":17349,"v":-27.66,"t":"Cosine sum 9–235"},{"f":17349,"v":-33.47,"t":"93.75%"}]},
 "mark":{"type":"text","fontSize":10,"align":"right","baseline":"middle"},
 "encoding":{"x":{"field":"f","type":"quantitative","scale":{"type":"log","domain":[20,20000]}},"y":{"field":"v","type":"quantitative","scale":{"domain":[-190,20],"nice":false,"zero":false}},"text":{"field":"t"}}},
{"data":{"values":[{"f":11853,"v":-40.24,"t":"Distortion settings"},{"f":11853,"v":-47.62,"t":"Appearance"},{"f":11853,"v":-54.88,"t":"Trace options"}]},
 "mark":{"type":"text","fontSize":10,"align":"center","baseline":"middle"},
 "encoding":{"x":{"field":"f","type":"quantitative","scale":{"type":"log","domain":[20,20000]}},"y":{"field":"v","type":"quantitative","scale":{"domain":[-190,20],"nice":false,"zero":false}},"text":{"field":"t"}}},
{"data":{"values":[{"f":21.12,"v":-186.6,"t":"577 coherent averages"}]},
 "mark":{"type":"text","fontSize":14,"fontWeight":"bold","align":"left","baseline":"middle"},
 "encoding":{"x":{"field":"f","type":"quantitative","scale":{"type":"log","domain":[20,20000]}},"y":{"field":"v","type":"quantitative","scale":{"domain":[-190,20],"nice":false,"zero":false}},"text":{"field":"t"}}},
{"data":{"values":[{"f":632.5,"v":16.13,"t":"RTA"}]},
 "mark":{"type":"text","fontSize":24,"fontWeight":"bold","color":"#444444","align":"center","baseline":"middle"},
 "encoding":{"x":{"field":"f","type":"quantitative","scale":{"type":"log","domain":[20,20000]}},"y":{"field":"v","type":"quantitative","scale":{"domain":[-190,20],"nice":false,"zero":false}},"text":{"field":"t"}}},
{"data":{"values":[{"x1":269.2,"x2":283.1,"y1":-197.98,"y2":-201.13}]},
 "mark":{"type":"rect","fill":"#ffffff","stroke":"#8a8a8a","strokeWidth":1,"cornerRadius":2},
 "encoding":{"x":{"field":"x1","type":"quantitative","scale":{"type":"log","domain":[20,20000]}},"x2":{"field":"x2"},
  "y":{"field":"y1","type":"quantitative","scale":{"domain":[-190,20],"nice":false,"zero":false}},"y2":{"field":"y2"}}},
{"data":{"values":[{"f":270.3,"v":-199.56,"t":"✓"},{"f":291.6,"v":-199.56,"t":"Spectrum"},{"f":857,"v":-199.56,"t":"−171.5 dBV"}]},
 "mark":{"type":"text","fontSize":11,"align":"left","baseline":"middle"},
 "encoding":{"x":{"field":"f","type":"quantitative","scale":{"type":"log","domain":[20,20000]}},"y":{"field":"v","type":"quantitative","scale":{"domain":[-190,20],"nice":false,"zero":false}},"text":{"field":"t"}}},
{"data":{"values":[{"x1":569.6,"x2":726.2,"v":-199.56}]},
 "mark":{"type":"rule","color":"#000000","strokeWidth":2.2},
 "encoding":{"x":{"field":"x1","type":"quantitative","scale":{"type":"log","domain":[20,20000]}},"x2":{"field":"x2"},
  "y":{"field":"v","type":"quantitative","scale":{"domain":[-190,20],"nice":false,"zero":false}}}}
]
}
